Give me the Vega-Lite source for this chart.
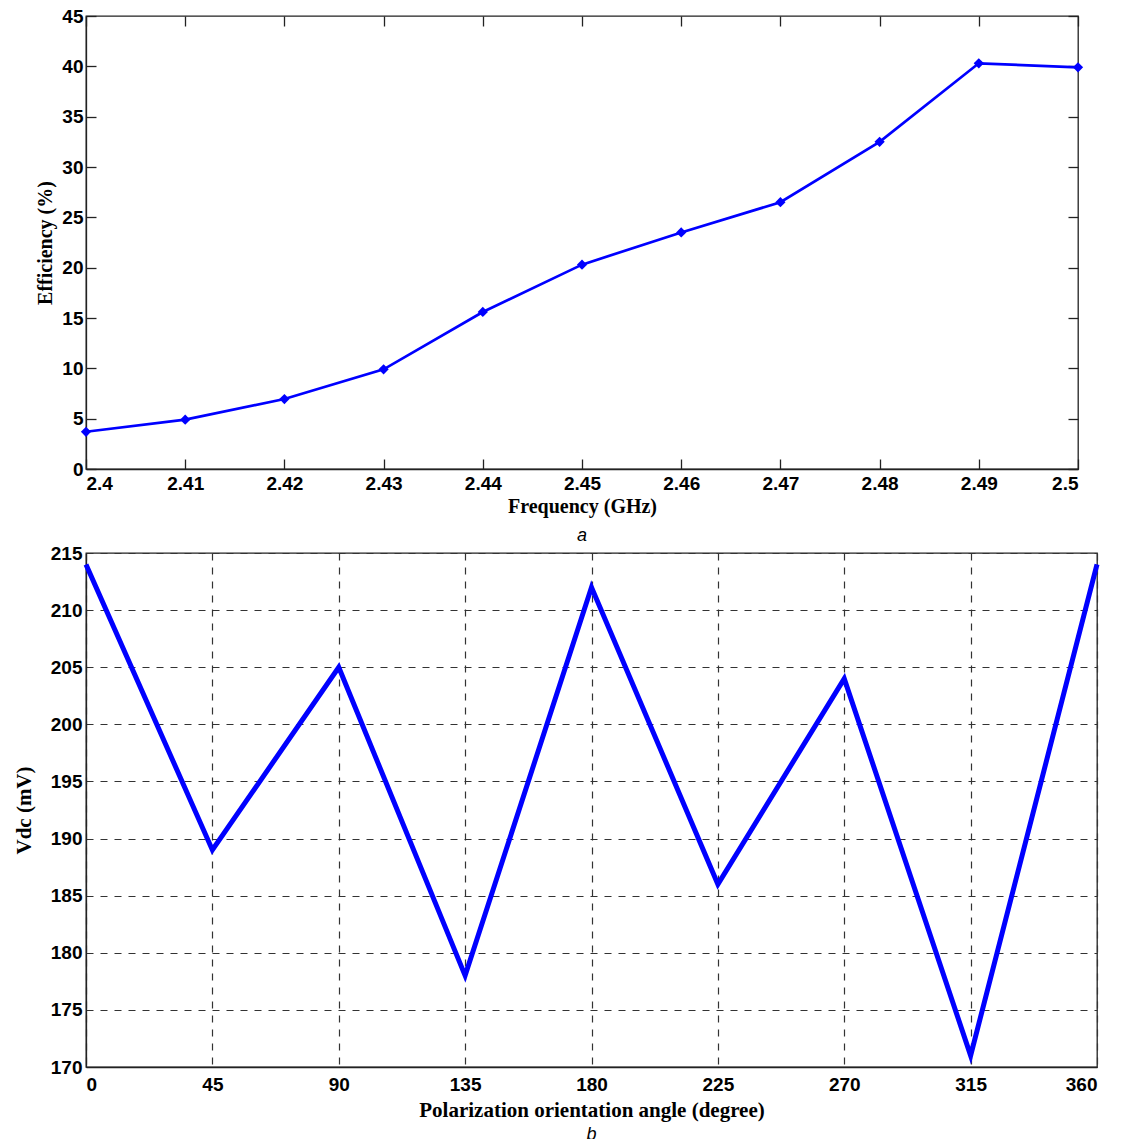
{
  "$schema": "https://vega.github.io/schema/vega-lite/v6.json",
  "padding": {"left": 12, "top": 6, "right": 5, "bottom": 0},
  "spacing": -3,
  "config": {
    "font": "Liberation Sans",
    "view": {"stroke": "#222", "strokeWidth": 1.3},
    "axis": {
      "labelFont": "Liberation Sans", "labelFontWeight": "bold", "labelFontSize": 19, "labelColor": "#000",
      "titleFont": "Liberation Serif", "titleFontWeight": "bold", "titleFontSize": 20, "titleColor": "#000",
      "domainColor": "#222", "tickColor": "#222", "domainWidth": 1.3, "tickWidth": 1.3
    }
  },
  "vconcat": [
    {
      "width": 992, "height": 453,
      "title": {"text": "a", "orient": "bottom", "font": "Liberation Sans", "fontStyle": "italic", "fontWeight": "normal", "fontSize": 18, "offset": 11},
      "data": {"values": [
        {"freq": 2.40, "eff": 3.7},
        {"freq": 2.41, "eff": 4.9},
        {"freq": 2.42, "eff": 6.95},
        {"freq": 2.43, "eff": 9.9},
        {"freq": 2.44, "eff": 15.6},
        {"freq": 2.45, "eff": 20.3},
        {"freq": 2.46, "eff": 23.5},
        {"freq": 2.47, "eff": 26.5},
        {"freq": 2.48, "eff": 32.5},
        {"freq": 2.49, "eff": 40.3},
        {"freq": 2.50, "eff": 39.9}
      ]},
      "resolve": {"axis": {"x": "independent", "y": "independent"}},
      "layer": [
        {
          "mark": {"type": "line", "color": "#0000ff", "strokeWidth": 2.7, "point": {"shape": "diamond", "filled": true, "size": 105, "color": "#0000ff"}},
          "encoding": {
            "x": {"field": "freq", "type": "quantitative", "scale": {"domain": [2.4, 2.5], "nice": false, "zero": false},
              "axis": {"values": [2.4, 2.41, 2.42, 2.43, 2.44, 2.45, 2.46, 2.47, 2.48, 2.49, 2.5], "format": ".2~f", "grid": false, "tickSize": -10, "labelPadding": 15, "title": "Frequency (GHz)", "titlePadding": 3}},
            "y": {"field": "eff", "type": "quantitative", "scale": {"domain": [0, 45], "nice": false},
              "axis": {"values": [0, 5, 10, 15, 20, 25, 30, 35, 40, 45], "grid": false, "tickSize": -10, "labelPadding": 13, "title": "Efficiency (%)", "titlePadding": 6}}
          }
        },
        {
          "mark": {"type": "line", "opacity": 0},
          "encoding": {
            "x": {"field": "freq", "type": "quantitative", "axis": {"orient": "top", "values": [2.4, 2.41, 2.42, 2.43, 2.44, 2.45, 2.46, 2.47, 2.48, 2.49, 2.5], "labels": false, "grid": false, "tickSize": -10, "title": null, "domain": false}},
            "y": {"field": "eff", "type": "quantitative", "axis": {"orient": "right", "values": [0, 5, 10, 15, 20, 25, 30, 35, 40, 45], "labels": false, "grid": false, "tickSize": -10, "title": null, "domain": false}}
          }
        }
      ]
    },
    {
      "width": 1011, "height": 514,
      "title": {"text": "b", "orient": "bottom", "font": "Liberation Sans", "fontStyle": "italic", "fontWeight": "normal", "fontSize": 18, "offset": 6},
      "data": {"values": [
        {"angle": 0, "vdc": 214},
        {"angle": 45, "vdc": 189},
        {"angle": 90, "vdc": 205},
        {"angle": 135, "vdc": 178},
        {"angle": 180, "vdc": 212},
        {"angle": 225, "vdc": 186},
        {"angle": 270, "vdc": 204},
        {"angle": 315, "vdc": 171},
        {"angle": 360, "vdc": 214}
      ]},
      "mark": {"type": "line", "color": "#0000ff", "strokeWidth": 5},
      "encoding": {
        "x": {"field": "angle", "type": "quantitative", "scale": {"domain": [0, 360], "nice": false},
          "axis": {"values": [0, 45, 90, 135, 180, 225, 270, 315, 360], "grid": true, "gridDash": [7, 7], "gridColor": "#333", "gridOpacity": 1, "gridWidth": 1.2, "ticks": false, "labelPadding": 8, "title": "Polarization orientation angle (degree)", "titleFontSize": 21, "titlePadding": 5}},
        "y": {"field": "vdc", "type": "quantitative", "scale": {"domain": [170, 215], "nice": false, "zero": false},
          "axis": {"values": [170, 175, 180, 185, 190, 195, 200, 205, 210, 215], "grid": true, "gridDash": [7, 7], "gridColor": "#333", "gridOpacity": 1, "gridWidth": 1.2, "ticks": false, "labelPadding": 4, "title": "Vdc (mV)", "titleFontSize": 21, "titlePadding": 16}}
      }
    }
  ]
}
